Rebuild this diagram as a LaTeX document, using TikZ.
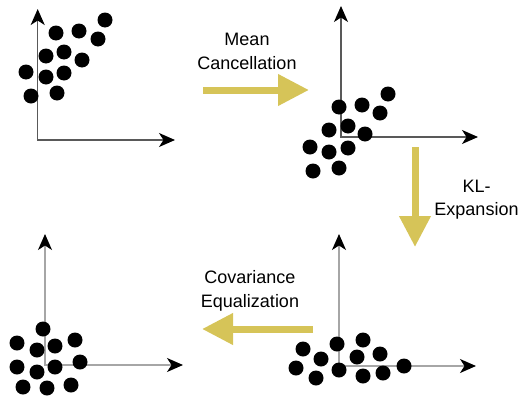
\documentclass[tikz,border=0pt]{standalone}
\usepackage{fontspec}
\setmainfont{Liberation Sans}
\usetikzlibrary{arrows.meta}

\definecolor{flowYellow}{RGB}{214,196,88}

\begin{document}
\begin{tikzpicture}
[x=1pt,y=-1pt,
  dotDecorate/.style={shape=circle,fill=black,inner sep=0pt,minimum size=15pt},
  axisDecorate/.style={{Stealth[length=16pt,width=14pt,inset=4.5pt,color=black]}-{Stealth[length=16pt,width=14pt,inset=4.5pt,color=black]},line width=1.5pt},
  flowDecorate/.style={-{Triangle[length=31pt,width=30pt]},line width=7pt,draw=flowYellow},
  labelDecorate/.style={align=center,font=\fontsize{18}{23.5}\selectfont,inner sep=0pt}]
\useasboundingbox (0,0) rectangle (519,399);
%% axes
\foreach \panel/\ox/\oy/\xx/\yy/\shade in {A/37.7/140/175/9/65, B/341/137/478/6/65, C/45/365/183/234/35, D/339/366/476/234/35} {
  \coordinate (\panel-o) at (\ox,\oy);
  \coordinate (\panel-x) at (\xx,\oy);
  \coordinate (\panel-y) at (\ox,\yy);
  \draw[axisDecorate,draw=black!\shade] (\panel-y) -- (\panel-o) -- (\panel-x);
}
%% samples
\foreach \nodename/\x/\y in {a1/105/20, a2/56/33, a3/79/31, a4/98/39, a5/46/56, a6/64/52,
  a7/82/60, a8/26/72, a9/46/77, a10/64/73, a11/31/96, a12/57/93,
  b1/388/94, b2/339/107, b3/362/105, b4/380/113, b5/329/130, b6/348/126,
  b7/365/134, b8/310/147, b9/329/152, b10/348/148, b11/313/171, b12/339/168,
  c1/43/329, c2/17/343, c3/37/350, c4/55/346, c5/75/340, c6/17/367,
  c7/37/372, c8/55/367, c9/80/362, c10/23/387, c11/47/388, c12/71/385,
  d1/337/344, d2/363/340, d3/303/349, d4/321/359, d5/357/357, d6/380/354,
  d7/296/368, d8/339/370, d9/363/376, d10/383/373, d11/404/366, d12/316/378} {
  \node (\nodename) at (\x,\y) [dotDecorate] {};
}
%% steps
\coordinate (meanStart) at (203,90);
\coordinate (meanEnd) at (309,90);
\coordinate (klStart) at (415,147);
\coordinate (klEnd) at (415,247);
\coordinate (covStart) at (313,329);
\coordinate (covEnd) at (202,329);
\draw[flowDecorate] (meanStart) -- (meanEnd);
\draw[flowDecorate] (klStart) -- (klEnd);
\draw[flowDecorate] (covStart) -- (covEnd);
\node (meanLabel) at (247,51.5) [labelDecorate] {Mean\\Cancellation};
\node (klLabel) at (476.5,199.5) [labelDecorate] {KL-\\Expansion};
\node (covLabel) at (250,291) [labelDecorate] {Covariance\\Equalization};
\end{tikzpicture}
\end{document}
